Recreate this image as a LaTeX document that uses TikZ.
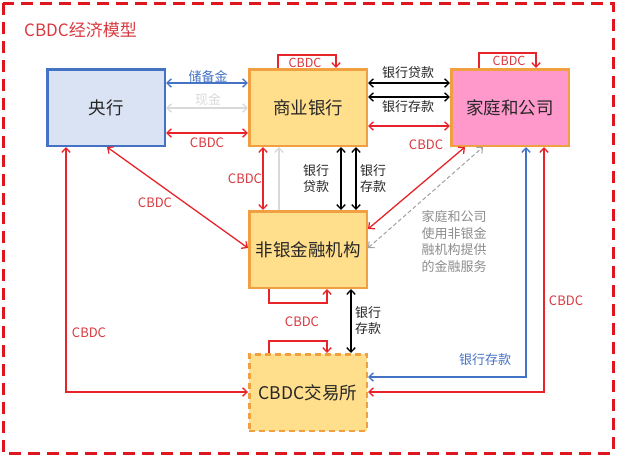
\documentclass[tikz,border=0pt]{standalone}
\usepackage{fontspec}
\setmainfont{Noto Sans CJK SC}
\usetikzlibrary{arrows.meta,calc}
\definecolor{cred}{HTML}{E8242B}
\definecolor{fred}{HTML}{E0161F}
\definecolor{ltred}{HTML}{D93A40}
\definecolor{cblue}{HTML}{4472C4}
\definecolor{boxblue}{HTML}{DAE3F3}
\definecolor{byellow}{HTML}{FFDF8C}
\definecolor{borange}{HTML}{F0A040}
\definecolor{bpink}{HTML}{FF99CC}
\definecolor{cgray}{HTML}{A0A0A0}
\definecolor{lgray}{HTML}{D9D9D9}
\definecolor{tgray}{HTML}{8C8C8C}
\begin{document}
\begin{tikzpicture}[x=1pt,y=-1pt,
  box/.style={draw=borange, fill=byellow, line width=2.5pt, minimum width=117.5pt,
    minimum height=76.5pt, inner sep=0pt, font=\fontsize{17.5}{20}\selectfont, text=black!85},
  lbl/.style={inner sep=0pt, font=\fontsize{13}{16}\selectfont, align=center},
  tipb/.tip={Straight Barb[length=4.5pt,width=8.5pt]},
  dbl/.style={line width=1.3pt, tipb-tipb},
  sgl/.style={line width=1.3pt, -tipb}
]
\useasboundingbox (0,0) rectangle (620,459);
\draw[fred, line width=3pt, dash pattern=on 12pt off 7pt] (3,3) rectangle (613,453);
\node[anchor=west, text=ltred, inner sep=0pt, font=\fontsize{17}{20}\selectfont] (title) at (24,30) {CBDC经济模型};

% boxes
\node[box, draw=cblue, fill=boxblue] (cb) at (106,107.5) {央行};
\node[box] (bank) at (308,107.5) {商业银行};
\node[box, fill=bpink] (hh) at (510,107.5) {家庭和公司};
\node[box] (nb) at (308,249.5) {非银金融机构};
\node[box, dash pattern=on 6pt off 4pt] (ex) at (308,392.5) {CBDC交易所};

% central bank - commercial bank
\draw[dbl, cblue] (cb.east |- 0,83) -- (bank.west |- 0,83);
\draw[dbl, lgray] (cb.east |- 0,108) -- (bank.west |- 0,108);
\draw[dbl, cred] (cb.east |- 0,133) -- (bank.west |- 0,133);
\node[lbl, text=cblue] (l1) at (208,76) {储备金};
\node[lbl, text=lgray] (l2) at (208,100) {现金};
\node[lbl, text=ltred] (l3) at (207,143) {CBDC};

% commercial bank - households
\draw[dbl] (bank.east |- 0,83) -- (hh.west |- 0,83);
\draw[dbl] (bank.east |- 0,97) -- (hh.west |- 0,97);
\draw[dbl, cred] (bank.east |- 0,126) -- (hh.west |- 0,126);
\node[lbl, text=black!85] (l4) at (408,73) {银行贷款};
\node[lbl, text=black!85] (l5) at (408,107) {银行存款};
\node[lbl, text=ltred] (l6) at (426,145) {CBDC};

% self loops
\draw[sgl, cred] (bank.north -| 278,0) |- (336,55) -- (bank.north -| 336,0);
\node[lbl, text=ltred, font=\fontsize{12.5}{14}\selectfont] (l7) at (305,62.5) {CBDC};
\draw[sgl, cred] (hh.north -| 479,0) |- (536,53) -- (hh.north -| 536,0);
\node[lbl, text=ltred, font=\fontsize{12.5}{14}\selectfont] (l8) at (509,61) {CBDC};

% commercial bank - non-bank
\draw[dbl, cred] (bank.south -| 263,0) -- (nb.north -| 263,0);
\draw[sgl, lgray] (nb.north -| 279,0) -- (bank.south -| 279,0);
\draw[dbl] (bank.south -| 341,0) -- (nb.north -| 341,0);
\draw[dbl] (bank.south -| 356,0) -- (nb.north -| 356,0);
\node[lbl, text=ltred] (l9) at (245,179) {CBDC};
\node[lbl, text=black!85] (l10) at (316,179) {银行\\贷款};
\node[lbl, text=black!85] (l11) at (373,179) {银行\\存款};

% households - non-bank
\draw[dbl, cred] (nb.east |- 0,229) -- (hh.south -| 465,0);
\draw[dbl, cgray, line width=1pt, dash pattern=on 4pt off 2.5pt] (nb.east |- 0,248) -- (hh.south -| 483,0);
\node[lbl, text=tgray, font=\fontsize{13}{16.5}\selectfont] (l12) at (454,241.5) {家庭和公司\\使用非银金\\融机构提供\\的金融服务};

% central bank - non-bank
\draw[dbl, cred] (cb.south -| 107,0) -- (nb.west |- 0,248);
\node[lbl, text=ltred] (l13) at (155,203) {CBDC};

% central bank - exchange
\draw[dbl, cred] (cb.south -| 66,0) |- (ex.west |- 0,392);
\node[lbl, text=ltred] (l14) at (89,333) {CBDC};

% non-bank / exchange loops
\draw[sgl, cred] (nb.south -| 269,0) |- (327,303) -- (nb.south -| 327,0);
\draw[sgl, cred] (ex.north -| 269,0) |- (327,341) -- (ex.north -| 327,0);
\node[lbl, text=ltred] (l15) at (302,322) {CBDC};

% non-bank - exchange
\draw[dbl] (nb.south -| 351,0) -- (ex.north -| 351,0);
\node[lbl, text=black!85] (l16) at (368,321) {银行\\存款};

% households - exchange
\draw[dbl, cblue] (hh.south -| 526,0) |- (ex.east |- 0,377);
\node[lbl, text=cblue] (l17) at (485,360) {银行存款};
\draw[dbl, cred] (hh.south -| 544,0) |- (ex.east |- 0,392);
\node[lbl, text=ltred] (l18) at (566,301) {CBDC};
\end{tikzpicture}
\end{document}
